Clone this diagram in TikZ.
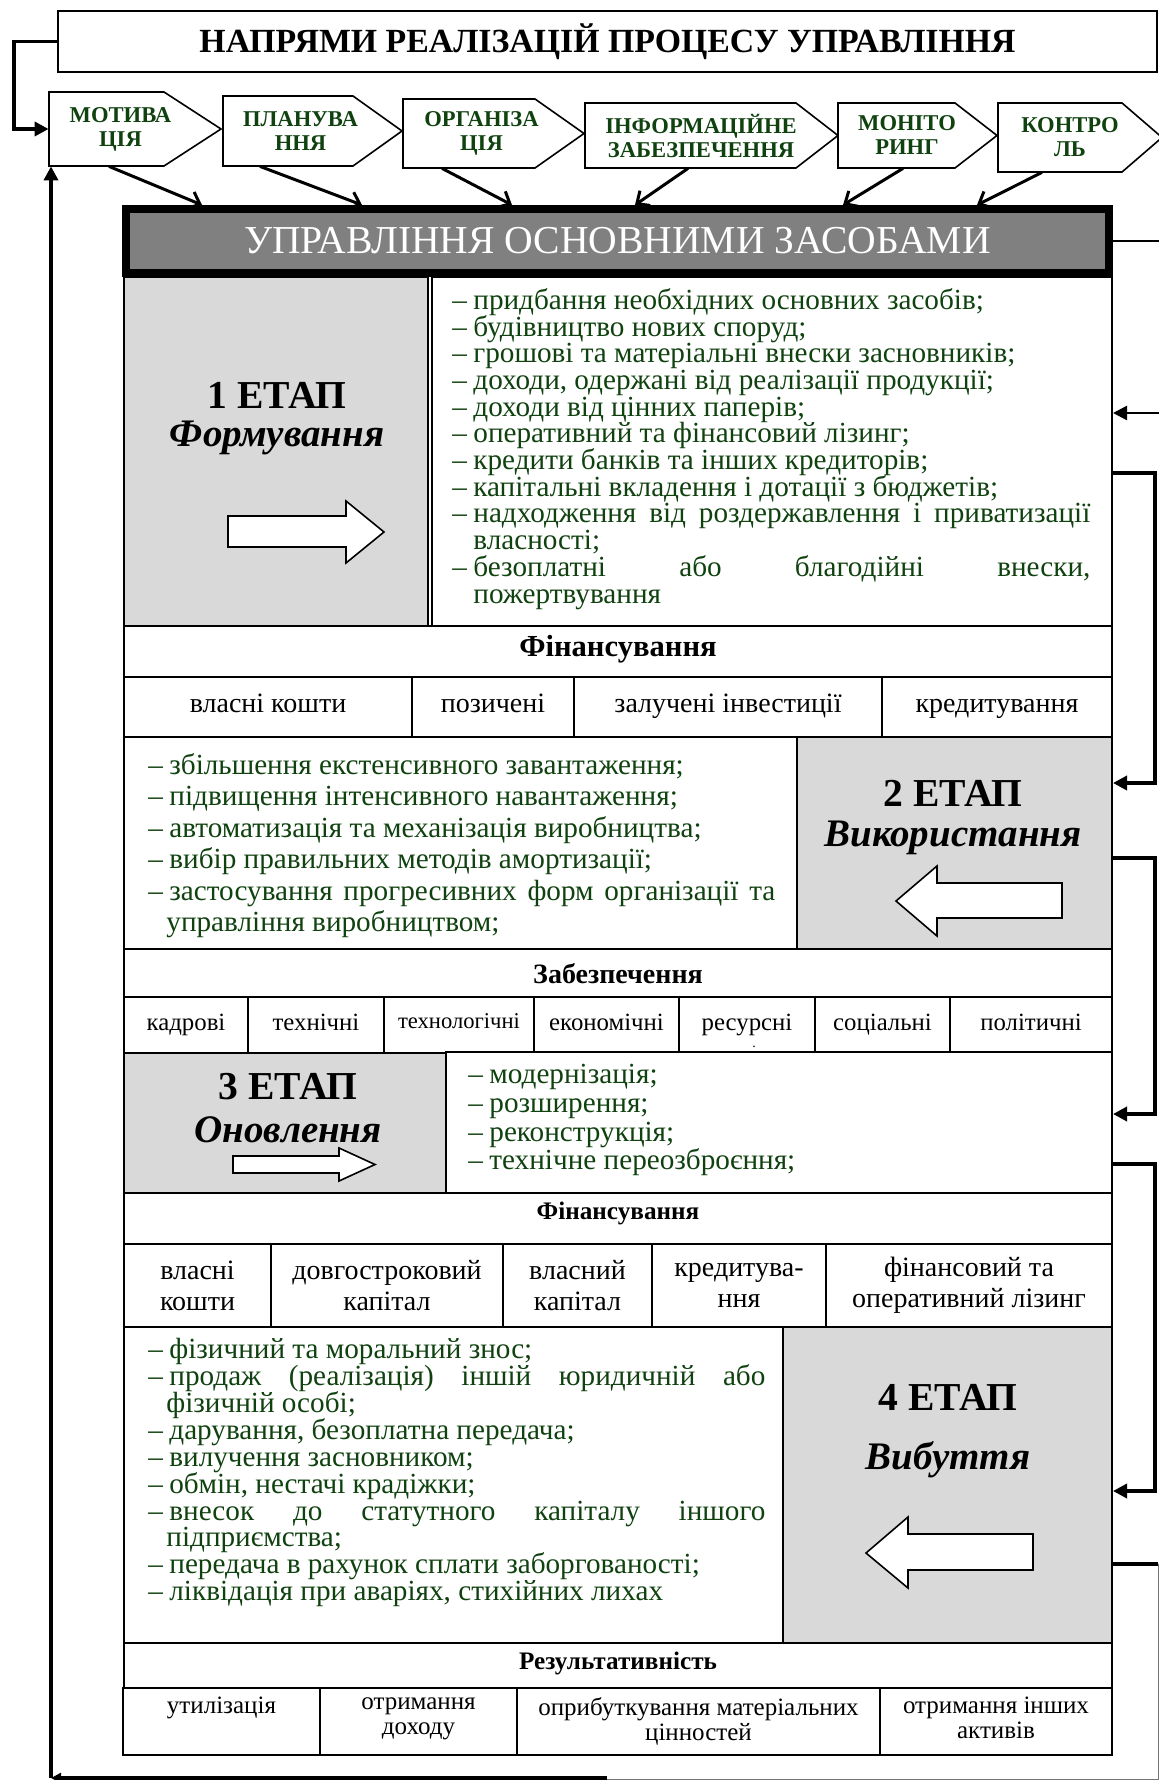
\documentclass[tikz,border=0pt]{standalone}
\usepackage{fontspec}
\setmainfont{Liberation Serif}
\usetikzlibrary{arrows.meta,fit}

\definecolor{listgreen}{RGB}{16,66,16}
\definecolor{stagegray}{RGB}{217,217,217}
\definecolor{headgray}{RGB}{128,128,128}

% dash of a list item, followed by the hanging indent
\newcommand{\itm}{\makebox[10.5pt][l]{–}}

\tikzset{
  cellbox/.style={draw, line width=1pt, inner sep=0pt, fill=white},
  graybox/.style={cellbox, fill=stagegray},
  dirshape/.style={draw, line width=0.8pt, fill=white, line join=miter},
  dirbody/.style={inner sep=0pt},
  dirtext/.style={inner sep=0pt, align=center, text=listgreen, font=\fontsize{11.3}{12}\selectfont\bfseries},
  dirarrow/.style={line width=1.5pt, -{Straight Barb[length=5pt,width=9pt]}},
  feedline/.style={line width=1.75pt},
  feedarrow/.style={feedline, -{Triangle[length=7pt,width=7pt]}},
  stagenum/.style={inner sep=0pt, font=\fontsize{19.8}{21}\selectfont\bfseries},
  stagename/.style={inner sep=0pt, font=\fontsize{19.5}{21}\selectfont\bfseries\itshape},
  blockarrow/.style={draw, line width=0.8pt, fill=white, line join=miter},
  listtext/.style={anchor=north west, inner sep=0pt, align=left, text=listgreen, execute at begin node={\lineskiplimit=-8pt}},
  rowhead/.style={inner sep=0pt},
  celltext/.style={inner sep=0pt, align=center},
  onecell/.style={celltext, execute at begin node=\strut},
}

\begin{document}
\begin{tikzpicture}[x=0.5pt, y=-0.5pt]
\useasboundingbox (0,0) rectangle (1159,1780);
\fill[white] (0,0) rectangle (1159,1780);

% Title box
\node[cellbox, fit={(58,11) (1157,72)}] (title) {};
\node[celltext, font=\fontsize{16.9}{18}\selectfont\bfseries] (titletext) at (title) {НАПРЯМИ РЕАЛІЗАЦІЙ ПРОЦЕСУ УПРАВЛІННЯ};

% Directions (pentagons)
\draw[dirshape] (49,92) -- (164,92) -- (221,129) -- (164,166) -- (49,166) -- cycle;
\node[dirbody, fit={(49,92) (192,166)}] (motiv) {};
\node[dirtext] (motivtext) at (motiv) {МОТИВА\\ЦІЯ};
\draw[dirshape] (223,96) -- (353,96) -- (402,131) -- (353,166) -- (223,166) -- cycle;
\node[dirbody, fit={(223,96) (378,166)}] (plan) {};
\node[dirtext] (plantext) at (plan) {ПЛАНУВА\\ННЯ};
\draw[dirshape] (403,99) -- (535,99) -- (584,133.5) -- (535,168) -- (403,168) -- cycle;
\node[dirbody, fit={(403,99) (560,168)}] (organ) {};
\node[dirtext] (organtext) at (organ) {ОРГАНІЗА\\ЦІЯ};
\draw[dirshape] (585,103) -- (796,103) -- (838,135.5) -- (796,168) -- (585,168) -- cycle;
\node[dirbody, fit={(585,103) (817,168)}] (inform) {};
\node[dirtext] (informtext) at (inform) {ІНФОРМАЦІЙНЕ\\ЗАБЕЗПЕЧЕННЯ};
\draw[dirshape] (838,103) -- (955,103) -- (997,135.5) -- (955,168) -- (838,168) -- cycle;
\node[dirbody, fit={(838,103) (976,168)}] (monit) {};
\node[dirtext] (monittext) at (monit) {МОНІТО\\РИНГ};
\draw[dirshape] (998,103) -- (1122,103) -- (1162,137.5) -- (1122,172) -- (998,172) -- cycle;
\node[dirbody, fit={(998,103) (1142,172)}] (contr) {};
\node[dirtext] (contrtext) at (contr) {КОНТРО\\ЛЬ};

% Main box
\node[cellbox, line width=4pt, fill=headgray, fit={(126,209) (1109,273)}] (main) {};
\node[celltext, text=white, font=\fontsize{19.8}{22}\selectfont] (maintext) at (main) {УПРАВЛІННЯ ОСНОВНИМИ ЗАСОБАМИ};

% Arrows from the directions to the main box
\draw[dirarrow] (motiv.south -| 109,0) -- (main.north -| 202,0);
\draw[dirarrow] (plan.south -| 260,0) -- (main.north -| 362,0);
\draw[dirarrow] (organ.south -| 442,0) -- (main.north -| 512,0);
\draw[dirarrow] (inform.south -| 688,0) -- (main.north -| 635,0);
\draw[dirarrow] (monit.south -| 903,0) -- (main.north -| 843,0);
\draw[dirarrow] (contr.south -| 1042,0) -- (main.north -| 977,0);

% Stage 1
\node[graybox, fit={(124,277) (428,626)}] (st1a) {};
\node[cellbox, fit={(432,277) (1112,626)}] (st1b) {};
\node[stagenum] (st1num) at (277,395) {1 ЕТАП};
\node[stagename] (st1name) at (277,438) {Формування};
\draw[blockarrow] (228,516) -- (346,516) -- (346,501) -- (384,532) -- (346,563) -- (346,547) -- (228,547) -- cycle;
\node[listtext, font=\fontsize{14.6}{13.35}\selectfont] (st1list) at (452,288) {%
\itm придбання необхідних основних засобів;\\
\itm будівництво нових споруд;\\
\itm грошові та матеріальні внески засновників;\\
\itm доходи, одержані від реалізації продукції;\\
\itm доходи від цінних паперів;\\
\itm оперативний та фінансовий лізинг;\\
\itm кредити банків та інших кредиторів;\\
\itm капітальні вкладення і дотації з бюджетів;\\
\itm\makebox[308.5pt][s]{надходження від роздержавлення і приватизації}\\
\hspace*{10.5pt}власності;\\
\itm\makebox[308.5pt][s]{безоплатні або благодійні внески,}\\
\hspace*{10.5pt}пожертвування};

% Financing 1
\node[cellbox, fit={(124,626) (1112,677)}] (fin1) {};
\node[rowhead, font=\fontsize{15.3}{17}\selectfont\bfseries] (fin1head) at (618,649) {Фінансування};
\node[cellbox, fit={(124,677) (412,737)}] (fin1a) {};
\node[cellbox, fit={(412,677) (574,737)}] (fin1b) {};
\node[cellbox, fit={(574,677) (882,737)}] (fin1c) {};
\node[cellbox, fit={(882,677) (1112,737)}] (fin1d) {};
\node[onecell, font=\fontsize{14}{16}\selectfont] (fin1atext) at ([yshift=0.4pt]fin1a) {власні кошти};
\node[onecell, font=\fontsize{14}{16}\selectfont] (fin1btext) at ([yshift=0.4pt]fin1b) {позичені};
\node[onecell, font=\fontsize{14}{16}\selectfont] (fin1ctext) at ([yshift=0.4pt]fin1c) {залучені інвестиції};
\node[onecell, font=\fontsize{14}{16}\selectfont] (fin1dtext) at ([yshift=0.4pt]fin1d) {кредитування};

% Stage 2
\node[cellbox, fit={(124,737) (797,949)}] (st2a) {};
\node[graybox, fit={(797,737) (1112,949)}] (st2b) {};
\node[stagenum] (st2num) at (953,793) {2 ЕТАП};
\node[stagename] (st2name) at (953,838) {Використання};
\draw[blockarrow] (896,901) -- (937,866) -- (937,883) -- (1062,883) -- (1062,918) -- (937,918) -- (937,936) -- cycle;
\node[listtext, font=\fontsize{14.6}{15.75}\selectfont] (st2list) at (148,753) {%
\itm збільшення екстенсивного завантаження;\\
\itm підвищення інтенсивного навантаження;\\
\itm автоматизація та механізація виробництва;\\
\itm вибір правильних методів амортизації;\\
\itm\makebox[303pt][s]{застосування прогресивних форм організації та}\\
\hspace*{9pt}управління виробництвом;};

% Supply
\node[cellbox, fit={(124,949) (1112,997)}] (sup) {};
\node[rowhead, font=\fontsize{14}{16}\selectfont\bfseries] (suphead) at (618,974) {Забезпечення};
\node[cellbox, fit={(124,997) (248,1053)}] (supa) {};
\node[cellbox, fit={(248,997) (384,1053)}] (supb) {};
\node[cellbox, fit={(384,997) (534,1053)}] (supc) {};
\node[cellbox, fit={(534,997) (679,1053)}] (supd) {};
\node[cellbox, fit={(679,997) (815,1053)}] (supe) {};
\node[cellbox, fit={(815,997) (950,1053)}] (supf) {};
\node[cellbox, fit={(950,997) (1112,1053)}] (supg) {};
\node[onecell, font=\fontsize{12.4}{14}\selectfont] (supatext) at (supa) {кадрові};
\node[onecell, font=\fontsize{12.4}{14}\selectfont] (supbtext) at (supb) {технічні};
\node[onecell, font=\fontsize{11.3}{13}\selectfont] (supctext) at ([yshift=1pt]supc) {технологічні};
\node[onecell, font=\fontsize{12.4}{14}\selectfont] (supdtext) at (supd) {економічні};
\node[onecell, font=\fontsize{12.4}{14}\selectfont] (supetext) at (supe) {ресурсні};
\node[onecell, font=\fontsize{12.4}{14}\selectfont] (supftext) at (supf) {соціальні};
\node[onecell, font=\fontsize{12.4}{14}\selectfont] (supgtext) at (supg) {політичні};
\node[inner sep=0pt, font=\fontsize{7}{7}\selectfont] (supdot) at (754,1047) {.};

% Stage 3
\node[graybox, fit={(124,1053) (446,1193)}] (st3a) {};
\node[cellbox, fit={(446,1052) (1112,1193)}] (st3b) {};
\node[stagenum] (st3num) at (288,1087) {3 ЕТАП};
\node[stagename] (st3name) at (288,1130) {Оновлення};
\draw[blockarrow] (233,1156) -- (339,1156) -- (339,1148) -- (375,1164.5) -- (339,1181) -- (339,1173) -- (233,1173) -- cycle;
\node[listtext, font=\fontsize{14.6}{14.35}\selectfont] (st3list) at (468,1064) {%
\itm модернізація;\\
\itm розширення;\\
\itm реконструкція;\\
\itm технічне переозброєння;};

% Financing 2
\node[cellbox, fit={(124,1193) (1112,1244)}] (fin2) {};
\node[rowhead, font=\fontsize{12.6}{14}\selectfont\bfseries] (fin2head) at (618,1213) {Фінансування};
\node[cellbox, fit={(124,1244) (271,1327)}] (fin2a) {};
\node[cellbox, fit={(271,1244) (503,1327)}] (fin2b) {};
\node[cellbox, fit={(503,1244) (652,1327)}] (fin2c) {};
\node[cellbox, fit={(652,1244) (826,1327)}] (fin2d) {};
\node[cellbox, fit={(826,1244) (1112,1327)}] (fin2e) {};
\node[celltext, font=\fontsize{14}{15.5}\selectfont] (fin2atext) at (fin2a) {власні\\кошти};
\node[celltext, font=\fontsize{14}{15.5}\selectfont] (fin2btext) at (fin2b) {довгостроковий\\капітал};
\node[celltext, font=\fontsize{14}{15.5}\selectfont] (fin2ctext) at (fin2c) {власний\\капітал};
\node[celltext, font=\fontsize{14}{15.5}\selectfont] (fin2dtext) at (fin2d) {кредитува-\\ння};
\node[celltext, font=\fontsize{14}{15.5}\selectfont] (fin2etext) at (fin2e) {фінансовий та\\оперативний лізинг};

% Stage 4
\node[cellbox, fit={(124,1327) (783,1643)}] (st4a) {};
\node[graybox, fit={(783,1327) (1112,1643)}] (st4b) {};
\node[stagenum] (st4num) at (948,1397) {4 ЕТАП};
\node[stagename] (st4name) at (948,1460) {Вибуття};
\draw[blockarrow] (866,1553) -- (908,1517) -- (908,1534) -- (1033,1534) -- (1033,1570) -- (908,1570) -- (908,1588) -- cycle;
\node[listtext, font=\fontsize{14.6}{13.45}\selectfont] (st4list) at (148,1338) {%
\itm фізичний та моральний знос;\\
\itm\makebox[298pt][s]{продаж (реалізація) іншій юридичній або}\\
\hspace*{9pt}фізичній особі;\\
\itm дарування, безоплатна передача;\\
\itm вилучення засновником;\\
\itm обмін, нестачі крадіжки;\\
\itm\makebox[298pt][s]{внесок до статутного капіталу іншого}\\
\hspace*{9pt}підприємства;\\
\itm передача в рахунок сплати заборгованості;\\
\itm ліквідація при аваріях, стихійних лихах};

% Results
\node[cellbox, fit={(124,1643) (1112,1688)}] (res) {};
\node[rowhead, font=\fontsize{12.6}{14}\selectfont\bfseries] (reshead) at (618,1663) {Результативність};
\node[cellbox, fit={(123,1688) (320,1755)}] (resa) {};
\node[cellbox, fit={(320,1688) (517,1755)}] (resb) {};
\node[cellbox, fit={(517,1688) (880,1755)}] (resc) {};
\node[cellbox, fit={(880,1688) (1112,1755)}] (resd) {};
\node[celltext, anchor=north, font=\fontsize{12.5}{12.5}\selectfont] (resatext) at ([yshift=-5pt]resa.north) {утилізація};
\node[celltext, anchor=north, font=\fontsize{12.5}{12.5}\selectfont] (resbtext) at ([yshift=-5pt]resb.north) {отримання\\доходу};
\node[celltext, anchor=north, font=\fontsize{12.5}{12.5}\selectfont] (resctext) at ([yshift=-5pt]resc.north) {оприбуткування матеріальних\\цінностей};
\node[celltext, anchor=north, font=\fontsize{12.5}{12.5}\selectfont] (resdtext) at ([yshift=-5pt]resd.north) {отримання інших\\активів};

% Feedback lines
\coordinate (corner) at (51,1778);
\coordinate (bottomcut) at (607,1778);
\draw[feedarrow] (title.west) -- (title.west -| 14,0) |- (motiv.west);
\draw[feedline, line width=1.25pt, -{Triangle[length=7pt,width=7pt]}] (main.east) -- (main.east -| 1166,0) -- (1166,413) -- (st1b.east |- 0,413);
\draw[feedarrow] (st1b.east |- 0,473) -- (1155,473) -- (1155,783) -- (st2b.east |- 0,783);
\draw[feedarrow] (st2b.east |- 0,858) -- (1155,858) -- (1155,1114) -- (st3b.east |- 0,1114);
\draw[feedarrow] (st3b.east |- 0,1164) -- (1155,1164) -- (1155,1491) -- (st4b.east |- 0,1491);
\draw[feedline] (st4b.east |- 0,1564) -- (1158,1564);
\draw[line width=0.5pt, black!55] (1158.5,1564) -- (1158.5,1779) -- (bottomcut |- 0,1779);
\draw[feedline, -{Triangle[length=5pt,width=5pt]}] (bottomcut) -- (corner);
\draw[feedarrow] (corner) -- (corner |- motiv.south);
\end{tikzpicture}
\end{document}
